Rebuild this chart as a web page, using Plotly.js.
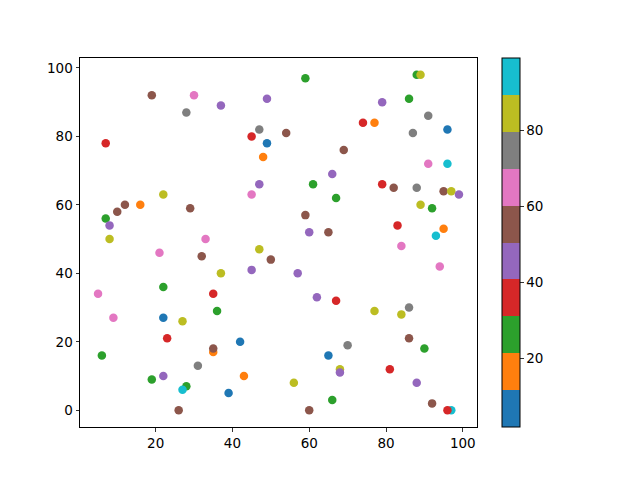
<!DOCTYPE html>
<html>
<head>
<meta charset="utf-8">
<script src="https://cdn.plot.ly/plotly-3.0.1.min.js"></script>
<style>html,body{margin:0;padding:0;background:#fff;}#chart{width:640px;height:480px;}</style>
</head>
<body>
<div id="chart"></div>
<script>
var xs = [7,19,28,30,37,49,47,45,49,48,54,59,88,89,79,86,91,74,77,87,96,69,91,96,61,66,67,79,82,88,95,97,99,89,92,59,60,65,83,95,93,84,94,47,45,22,16,12,10,29,7,8,8,21,33,32,47,50,37,45,57,5,22,35,62,67,9,22,27,36,77,84,86,23,42,35,35,70,86,90,6,65,22,19,31,68,68,81,43,28,27,39,56,66,88,92,97,96,26,60];
var ys = [78,92,87,92,89,91,82,80,78,74,81,97,98,98,90,91,86,84,84,81,82,76,72,72,66,69,62,66,65,65,64,64,63,60,59,57,52,52,54,53,51,48,42,66,63,63,60,60,58,59,56,54,50,46,50,45,47,44,40,41,40,34,36,34,33,32,27,27,26,29,29,28,30,21,20,17,18,19,21,18,16,16,10,9,13,12,11,12,10,7,6,5,8,3,8,2,0,0,0,0];
var cs = [36,55,75,65,45,45,75,36,7,16,55,26,26,84,45,26,75,36,16,75,7,55,65,94,26,45,26,36,55,75,55,84,45,84,26,55,45,55,36,16,94,65,65,45,65,84,16,55,55,55,26,45,84,65,65,55,84,55,84,45,45,65,26,36,45,36,65,7,84,26,84,84,75,36,7,16,55,75,55,26,26,7,45,26,75,84,45,36,16,26,94,7,84,26,45,55,94,36,55,55];
var cmin = 2, cmax = 99;
var tab10 = ['#1f77b4','#ff7f0e','#2ca02c','#d62728','#9467bd','#8c564b','#e377c2','#7f7f7f','#bcbd22','#17becf'];
var xTicks = [20,40,60,80,100];
var yTicks = [0,20,40,60,80,100];
var cTicks = [20,40,60,80];

var scale = [];
for (var i = 0; i < tab10.length; i++) {
  scale.push([i/10, tab10[i]]);
  scale.push([(i+1)/10, tab10[i]]);
}

var trace = {
  type: 'scatter',
  mode: 'markers',
  x: xs, y: ys,
  marker: {
    size: 8.5,
    color: cs,
    cmin: cmin, cmax: cmax,
    colorscale: scale,
    line: {width: 0},
    showscale: true,
    colorbar: {
      x: 1.0637, xanchor: 'left', xpad: 0,
      y: 0.5, yanchor: 'middle', ypad: 0,
      len: 1, lenmode: 'fraction',
      thickness: 18, thicknessmode: 'pixels',
      outlinewidth: 1, outlinecolor: '#000',
      tickmode: 'array', tickvals: cTicks,
      ticks: 'outside', ticklen: 3.5, tickwidth: 0.8, tickcolor: '#000',
      tickfont: {family: 'DejaVu Sans', size: 13.5, color: '#000'}
    }
  },
  hoverinfo: 'none'
};

var axisCommon = {
  showgrid: false, zeroline: false,
  showline: true, mirror: true, linecolor: '#000', linewidth: 1,
  ticks: 'outside', ticklen: 3.5, tickwidth: 0.8, tickcolor: '#000',
  tickfont: {family: 'DejaVu Sans', size: 13.5, color: '#000'},
  tickmode: 'array'
};

var layout = {
  width: 640, height: 480,
  margin: {l: 80, r: 163, t: 58, b: 53, pad: 0},
  paper_bgcolor: '#fff', plot_bgcolor: '#fff',
  showlegend: false,
  xaxis: Object.assign({}, axisCommon, {range: [0.3, 103.7], tickvals: xTicks}),
  yaxis: Object.assign({}, axisCommon, {range: [-4.9, 102.9], tickvals: yTicks})
};

Plotly.newPlot('chart', [trace], layout, {displayModeBar: false, staticPlot: true});
</script>
</body>
</html>
